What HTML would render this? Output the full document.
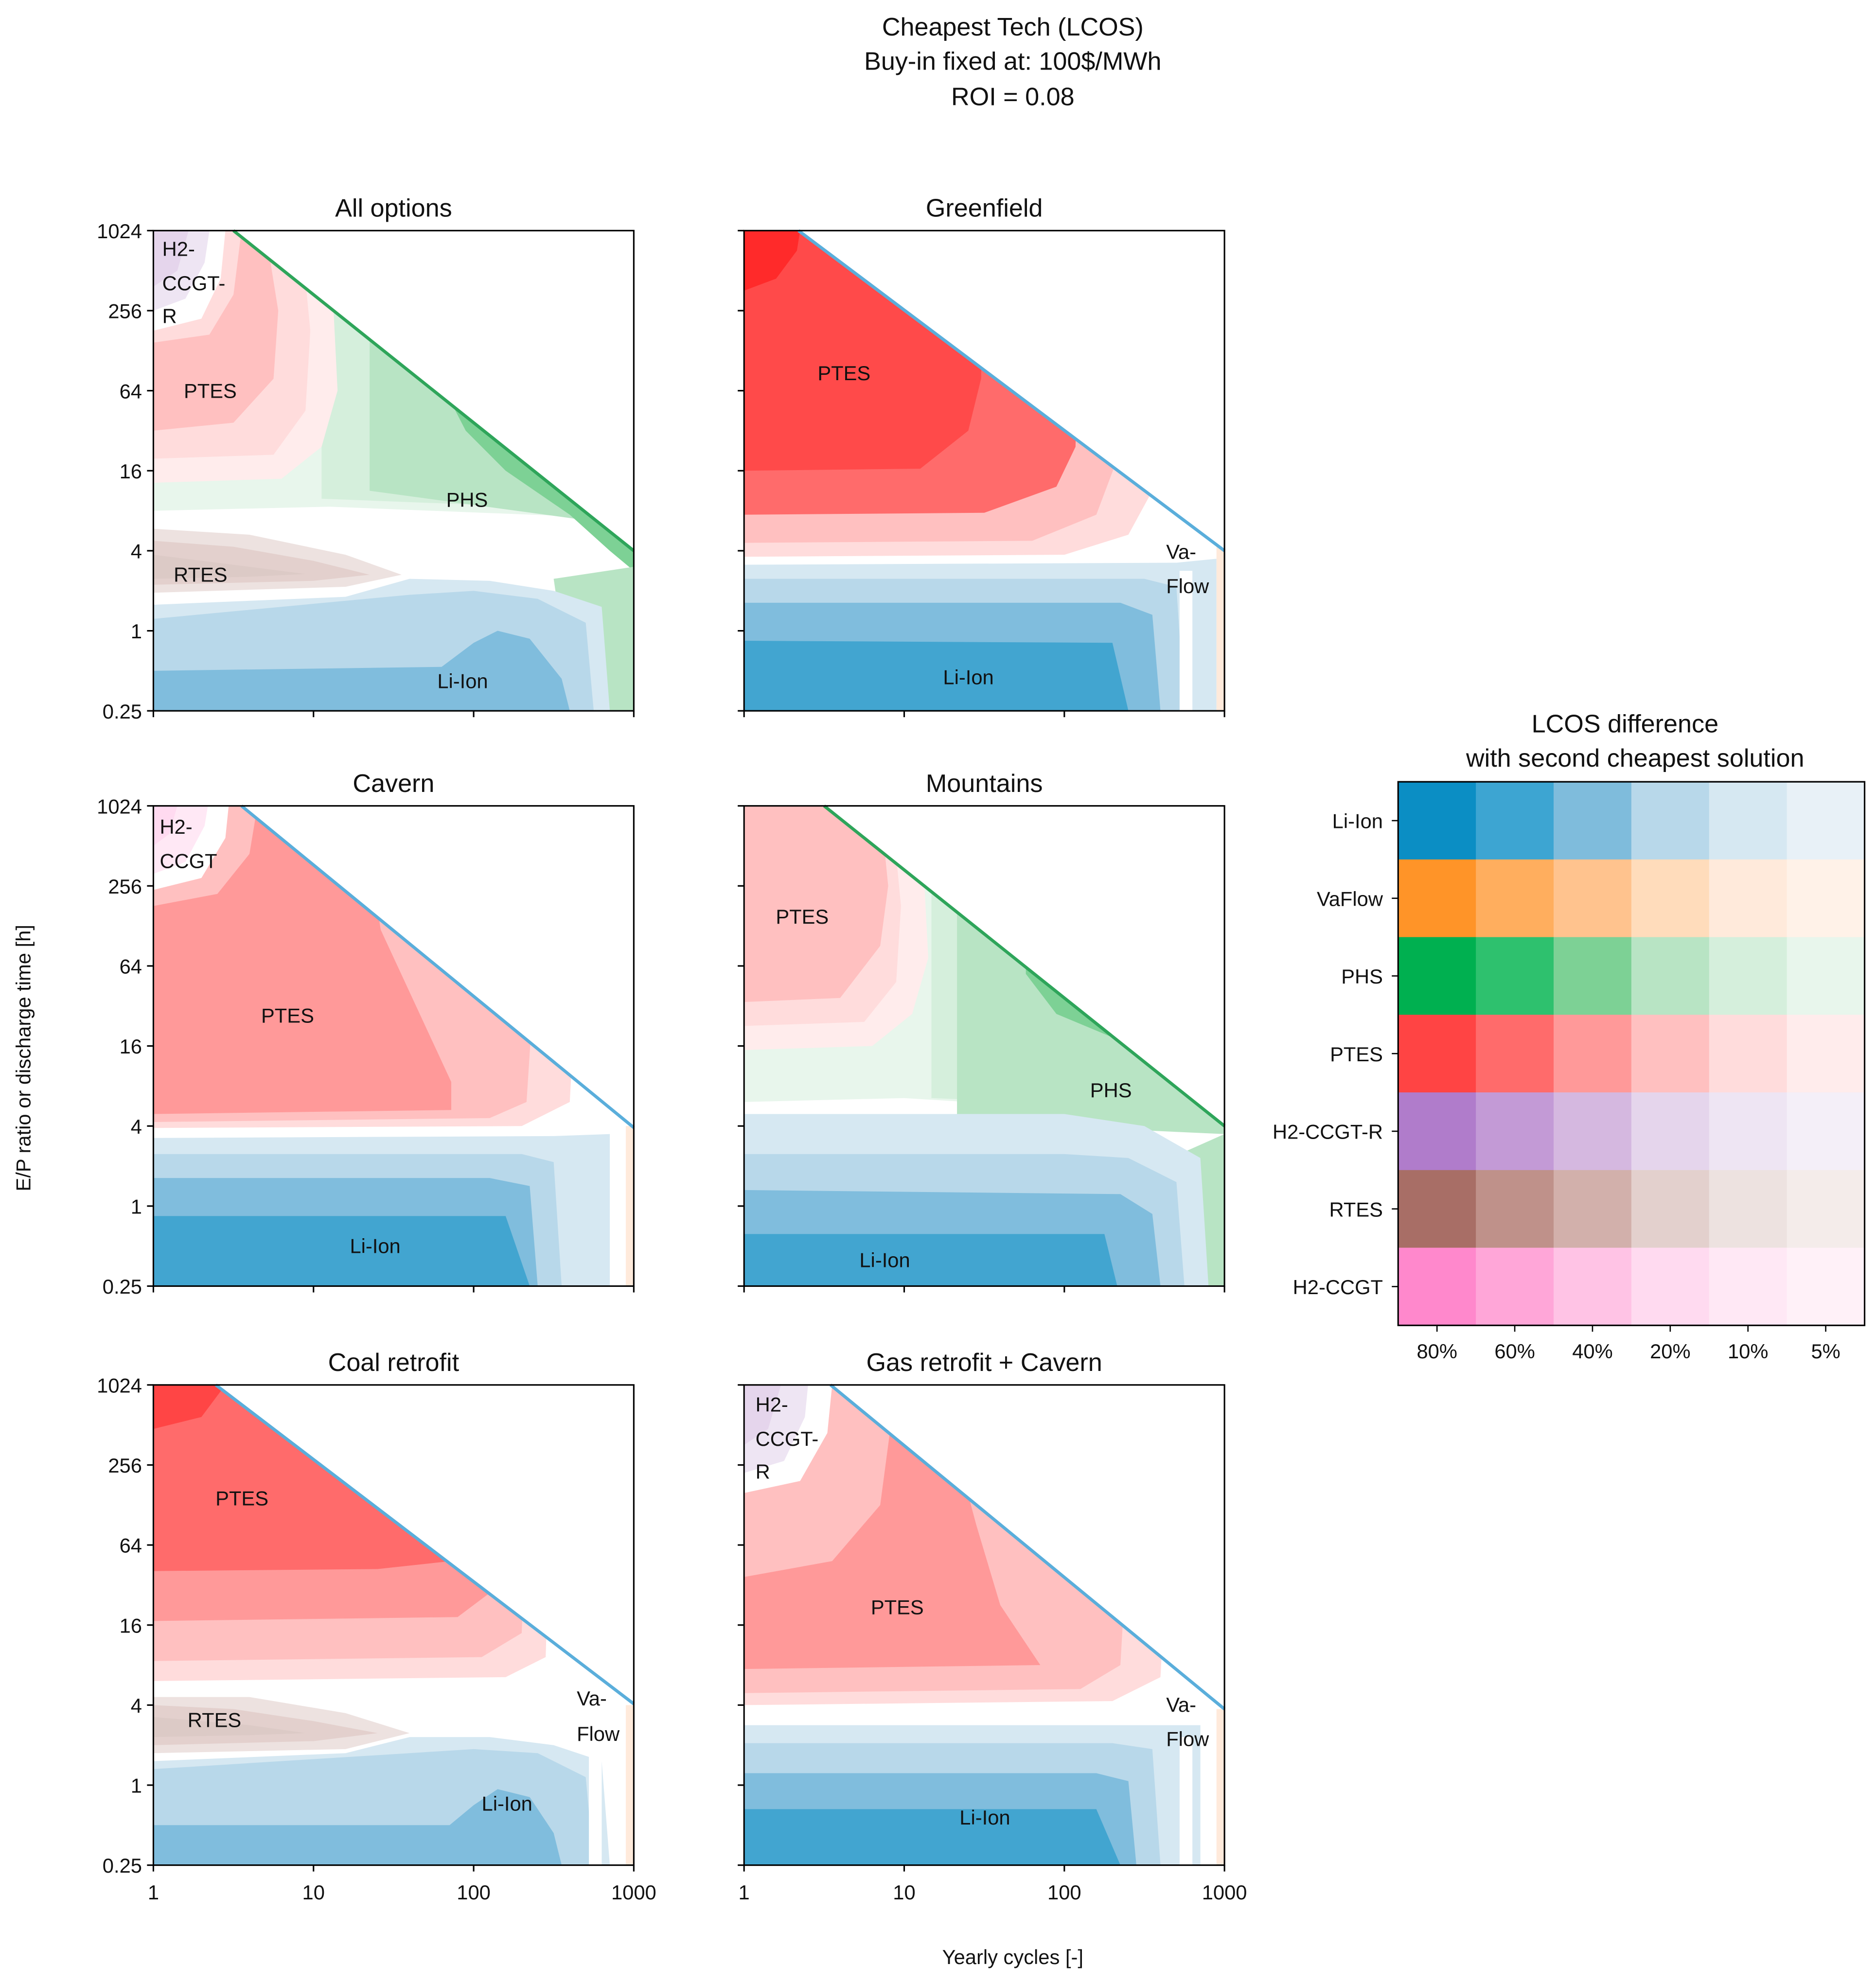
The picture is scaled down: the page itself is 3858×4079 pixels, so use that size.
<!DOCTYPE html>
<html><head><meta charset="utf-8"><style>
html,body{margin:0;padding:0;background:#fff;}
svg{display:block;font-family:"Liberation Sans","DejaVu Sans",sans-serif;}
</style></head><body>
<svg id="chart" xmlns="http://www.w3.org/2000/svg" width="3858" height="4079" viewBox="0 0 1480 1565" preserveAspectRatio="none">
<g font-size="20" text-anchor="middle" fill="#111">
<text x="799" y="28">Cheapest Tech (LCOS)</text>
<text x="799" y="55">Buy-in fixed at: 100$/MWh</text>
<text x="799" y="83">ROI = 0.08</text>
</g>
<text x="24" y="835" font-size="16" text-anchor="middle" transform="rotate(-90 24 835)" fill="#111">E/P ratio or discharge time [h]</text>
<text x="799" y="1550" font-size="16" text-anchor="middle" fill="#111">Yearly cycles [-]</text>
<g id="panels"></g>
<g id="legend"></g>
</svg>
<script>
// ---- legend heatmap data ----
const techs = ['Li-Ion','VaFlow','PHS','PTES','H2-CCGT-R','RTES','H2-CCGT'];
const levels = ['80%','60%','40%','20%','10%','5%'];
const techColors = [
 ['#0b8ec4','#3da5d2','#7fbcdc','#b8d8ea','#d6e8f2','#e8f1f7'],
 ['#ff9428','#ffae5e','#ffc38e','#ffdcbb','#ffeadb','#fff2e8'],
 ['#00b050','#2ec16e','#7dd195','#b8e4c4','#d5efdc','#e8f6ec'],
 ['#ff4444','#ff6b6b','#ff9999','#ffc0c0','#ffdcdc','#ffecec'],
 ['#b07ccb','#c39ad6','#d5b8e0','#e5d5ec','#eee5f3','#f4eff8'],
 ['#a86e66','#bf918a','#d2b0ab','#e3d0cd','#ede2e0','#f4ecea'],
 ['#ff88cc','#ffa6d8','#ffc3e5','#ffdaf0','#ffe8f5','#fff1f8']
];
// ---- axis tick data ----
const yTickValues = [1024,256,64,16,4,1,0.25];
const yTickLabels = ['1024','256','64','16','4','1','0.25'];
const xTickValues = [1,10,100,1000];
const xTickLabels = ['1','10','100','1000'];

const L1='#42a5d0',L2='#80bddd',L3='#b8d8ea',L4='#d6e8f2';
const P0='#ff2a2a',P1='#ff4a4a',P2='#ff6b6b',P3='#ff9999',P4='#ffc0c0',P5='#ffdcdc',P6='#ffecec';
const G2='#7dd195',G3='#b8e4c4',G4='#d5efdc',G5='#e8f6ec';
const R2='#dccac6',R3='#e3d0cd',R4='#ede2e0';
const H3='#e5d5ec',H4='#eee5f3',K3='#ffdaf0',K4='#ffe8f5',V4='#ffeadb',W='#ffffff';

// regions in (log10 cycles, log2 hours)
const panelNames = ['All options','Greenfield','Cavern','Mountains','Coal retrofit','Gas retrofit + Cavern'];
const panelDiagStart = [0.5,0.34,0.55,0.5,0.39,0.54];
const panelDiagEnd = [2,2,1.96,2,2.03,1.9];
const panelRegions = [
 [[G5,[0,3.0,1.1,3.1,3,2.8,3,10,0,10]],[G4,[1.05,3.3,3,3.0,3,10,1.05,10]],[G3,[1.35,3.5,3,2.6,3,10,1.35,10]],
  [G2,[1.77,6.4,1.95,5.0,2.2,4.0,2.6,2.9,2.85,2.0,3,1.5,3,10,1.77,10]],[G3,[2.5,1.3,2.62,-2,3,-2,3,1.6]],
  [P6,[0,3.7,0.8,3.8,1.05,4.6,1.15,6,1.1,10,0,10]],[P5,[0,4.3,0.75,4.4,0.95,5.5,0.98,7.5,0.92,10,0,10]],
  [P4,[0,5.0,0.5,5.2,0.75,6.3,0.78,8,0.7,10,0,10]],[P5,[0,7.2,0.35,7.4,0.5,8.4,0.55,10,0,10]],
  [W,[0,7.5,0.3,7.8,0.42,8.8,0.45,10,0,10]],[H4,[0,8.0,0.2,8.3,0.32,9.2,0.35,10,0,10]],[H3,[0,8.6,0.15,9.0,0.22,10,0,10]],
  [W,[0,0.7,1.3,0.8,1.6,1.2,1.4,2.0,0.8,2.7,0,2.9]],
  [L4,[0,-2,2.85,-2,2.8,0.6,2.5,1.0,2.1,1.25,1.6,1.3,1.2,0.85,0,0.65]],[L3,[0,-2,2.75,-2,2.7,0.2,2.4,0.8,2.0,1.0,1.6,0.9,0,0.3]],
  [L2,[0,-2,2.6,-2,2.55,-1.2,2.35,-0.2,2.15,0.0,2.0,-0.3,1.8,-0.9,0,-1.0]],
  [R4,[0,0.95,1.2,1.1,1.55,1.4,1.2,1.9,0.6,2.4,0,2.55]],[R3,[0,1.15,1.0,1.25,1.35,1.4,1.0,1.75,0.5,2.1,0,2.25]],[R2,[0,1.3,0.6,1.35,0.95,1.42,0.6,1.6,0,1.9]]],
 [[P5,[0,1.85,2.0,1.9,2.4,2.4,2.55,3.5,2.6,10,0,10]],[P4,[0,2.2,1.8,2.25,2.2,2.9,2.35,4.5,2.35,10,0,10]],
  [P2,[0,2.9,1.5,2.95,1.95,3.6,2.07,4.6,2.1,10,0,10]],[P1,[0,4.0,1.1,4.05,1.4,5.0,1.48,6.3,1.5,10,0,10]],
  [P0,[0,8.5,0.2,8.8,0.33,9.5,0.35,10,0,10]],
  [L4,[0,-2,2.95,-2,2.95,1.8,2.7,1.7,0,1.65]],[L3,[0,-2,2.75,-2,2.7,1.1,2.5,1.3,0,1.3]],
  [L2,[0,-2,2.6,-2,2.55,0.4,2.35,0.7,0,0.7]],[L1,[0,-2,2.4,-2,2.3,-0.3,0,-0.25]],
  [W,[2.72,-2,2.8,-2,2.8,1.5,2.72,1.5]],[V4,[2.95,-2,3,-2,3,2.1,2.95,2.1]]],
 [[P5,[0,1.95,2.3,2.0,2.6,2.6,2.7,10,0,10]],[P4,[0,2.1,2.1,2.2,2.33,2.6,2.45,10,0,10]],
  [P3,[0,2.3,1.86,2.4,1.86,3.1,1.42,6.9,1.35,8.6,1.3,10,0,10]],
  [P4,[0,7.5,0.4,7.8,0.6,8.8,0.65,10,0,10]],[W,[0,7.9,0.3,8.2,0.45,9.2,0.47,10,0,10]],
  [K4,[0,8.3,0.2,8.6,0.32,9.5,0.34,10,0,10]],[K3,[0,9.0,0.1,9.3,0.15,10,0,10]],
  [L4,[0,-2,2.85,-2,2.85,1.8,2.5,1.75,0,1.7]],[L3,[0,-2,2.55,-2,2.5,1.1,2.3,1.3,0,1.3]],
  [L2,[0,-2,2.4,-2,2.35,0.5,2.1,0.7,0,0.7]],[L1,[0,-2,2.35,-2,2.2,-0.25,0,-0.25]],[V4,[2.95,-2,3,-2,3,2.0,2.95,2.0]]],
 [[G5,[0,2.6,1.0,2.7,3,2.2,3,10,0,10]],[G4,[1.17,2.7,3,2.4,3,10,1.17,10]],[G3,[1.33,2.1,3,1.8,3,10,1.33,10]],
  [G2,[1.76,5.8,1.95,4.8,2.31,4.2,2.7,3.0,3,2.0,3,10,1.76,10]],[G3,[2.55,1.0,2.65,-2,3,-2,3,1.8]],
  [P6,[0,3.9,0.8,4.0,1.05,4.8,1.15,6.2,1.1,10,0,10]],[P5,[0,4.5,0.75,4.6,0.95,5.6,0.98,7.5,0.92,10,0,10]],
  [P4,[0,5.1,0.6,5.2,0.85,6.5,0.9,8,0.85,10,0,10]],
  [L4,[0,-2,2.9,-2,2.85,1.2,2.5,2.0,2.0,2.3,0,2.3]],[L3,[0,-2,2.75,-2,2.7,0.6,2.4,1.2,2.0,1.3,0,1.3]],
  [L2,[0,-2,2.6,-2,2.55,-0.2,2.35,0.3,0,0.4]],[L1,[0,-2,2.33,-2,2.25,-0.7,0,-0.7]]],
 [[P5,[0,2.6,2.2,2.7,2.45,3.2,2.5,10,0,10]],[P4,[0,3.1,2.05,3.2,2.3,3.8,2.35,10,0,10]],
  [P3,[0,4.1,1.9,4.2,2.1,4.8,2.15,10,0,10]],[P2,[0,5.35,1.4,5.4,1.86,5.6,1.9,10,0,10]],
  ['#ff4545',[0,8.9,0.3,9.2,0.45,10,0,10]],
  [W,[0,0.6,1.3,0.7,1.6,1.1,1.4,2.0,0.8,2.5,0,2.6]],
  [L4,[0,-2,2.85,-2,2.8,0.6,2.5,1.0,2.1,1.2,1.6,1.2,1.2,0.8,0,0.6]],[L3,[0,-2,2.75,-2,2.7,0.2,2.4,0.8,2.0,0.9,1.6,0.8,0,0.4]],
  [L2,[0,-2,2.55,-2,2.5,-1.2,2.35,-0.3,2.15,-0.1,2.0,-0.5,1.85,-1.0,0,-1.0]],
  [R4,[0,0.8,1.2,0.9,1.6,1.3,1.2,1.8,0.6,2.2,0,2.2]],[R3,[0,1.0,1.0,1.1,1.4,1.3,1.0,1.6,0.5,1.9,0,2.0]],[R2,[0,1.2,0.6,1.25,0.95,1.3,0.6,1.5,0,1.7]],
  [W,[2.72,-2,2.8,-2,2.8,1.2,2.72,1.2]],[V4,[2.95,-2,3,-2,3,2.0,2.95,2.0]]],
 [[P5,[0,2.0,2.3,2.1,2.6,2.7,2.7,10,0,10]],[P4,[0,2.3,2.1,2.4,2.35,3.0,2.45,10,0,10]],
  [P3,[0,2.9,1.85,3.0,1.6,4.5,1.45,6.5,1.35,8,1.25,10,0,10]],
  [P4,[0,5.2,0.55,5.6,0.85,7,0.95,10,0,10]],[W,[0,7.3,0.35,7.6,0.52,8.8,0.55,10,0,10]],
  [H4,[0,7.8,0.25,8.1,0.38,9.2,0.4,10,0,10]],[H3,[0,8.5,0.15,8.9,0.23,10,0,10]],
  [L4,[0,-2,2.85,-2,2.85,1.5,2.5,1.5,0,1.5]],[L3,[0,-2,2.6,-2,2.55,0.9,2.3,1.05,0,1.05]],
  [L2,[0,-2,2.45,-2,2.4,0.1,2.2,0.3,0,0.3]],[L1,[0,-2,2.35,-2,2.2,-0.6,0,-0.6]],
  [W,[2.72,-2,2.8,-2,2.8,1.2,2.72,1.2]],[V4,[2.95,-2,3,-2,3,1.9,2.95,1.9]]]
];
const panelLineColor = ['#2ea55a','#5aaedb','#5aaedb','#2ea55a','#5aaedb','#5aaedb'];
const panelLabels = [
 [['H2-',7,14],['CCGT-',7,41],['R',7,67],['PTES',24,126],['PHS',231,212],['RTES',16,271],['Li-Ion',224,355]],
 [['PTES',58,112],['Va-',333,253],['Flow',333,280],['Li-Ion',157,352]],
 [['H2-',5,16],['CCGT',5,43],['PTES',85,165],['Li-Ion',155,347]],
 [['PTES',25,87],['PHS',273,224],['Li-Ion',91,358]],
 [['PTES',49,89],['Va-',334,247],['Flow',334,275],['RTES',27,264],['Li-Ion',259,330]],
 [['H2-',9,15],['CCGT-',9,42],['R',9,68],['PTES',100,175],['Va-',333,252],['Flow',333,279],['Li-Ion',170,341]]
];
const colX=[121,587], rowY=[182,636,1093], PW=379, PH=379;
const NS='http://www.w3.org/2000/svg';
function mk(tag,attrs,parent){const e=document.createElementNS(NS,tag);for(const k in attrs)e.setAttribute(k,attrs[k]);parent.appendChild(e);return e;}
const root=document.getElementById('panels');
panelNames.forEach((name,i)=>{
  const x0=colX[i%2], y0=rowY[Math.floor(i/2)];
  const X=u=>x0+u/3*PW, Y=v=>y0+(10-v)/12*PH;
  const g=mk('g',{},root);
  
  
  const cid='clip'+i;
  const cp=mk('clipPath',{id:cid},g);
  const u0=panelDiagStart[i], v1=panelDiagEnd[i];
  mk('polygon',{points:[[X(0),Y(-2)],[X(0),Y(10)],[X(u0),Y(10)],[X(3),Y(v1)],[X(3),Y(-2)]].map(p=>p.join(',')).join(' ')},cp);
  const area=mk('g',{'clip-path':'url(#'+cid+')'},g);
  mk('rect',{x:x0,y:y0,width:PW,height:PH,fill:'#fff'},area);
  panelRegions[i].forEach(([c,pts])=>{
    const arr=[];for(let k=0;k<pts.length;k+=2)arr.push(X(pts[k]).toFixed(1)+','+Y(pts[k+1]).toFixed(1));
    const p=mk('polygon',{points:arr.join(' '),fill:c},area);
    
    
  });
  const dl=mk('line',{x1:X(u0),y1:Y(10),x2:X(3),y2:Y(v1),stroke:panelLineColor[i],'stroke-width':2.5},g);
  
  
  panelLabels[i].forEach(([t,dx,dy])=>{
    const tx=mk('text',{x:x0+dx,y:y0+dy+6,'font-size':16,fill:'#111'},g);tx.textContent=t;
    
    
  });
  mk('rect',{x:x0,y:y0,width:PW,height:PH,fill:'none',stroke:'#000','stroke-width':1.2},g);
  const tt=mk('text',{x:x0+PW/2,y:y0-11,'font-size':20,'text-anchor':'middle',fill:'#111'},g);tt.textContent=name;
  
  
  yTickValues.forEach((v,k)=>{
    const yy=Y(Math.log2(v));
    mk('line',{x1:x0-5,x2:x0,y1:yy,y2:yy,stroke:'#000','stroke-width':1.2},g);
    if(i%2===0){const t=mk('text',{x:x0-9,y:yy+6,'font-size':16,'text-anchor':'end',fill:'#111'},g);t.textContent=yTickLabels[k];
      
      }
  });
  xTickValues.forEach((v,k)=>{
    const xx=X(Math.log10(v));
    mk('line',{x1:xx,x2:xx,y1:y0+PH,y2:y0+PH+5,stroke:'#000','stroke-width':1.2},g);
    if(i>=4){const t=mk('text',{x:xx,y:y0+PH+27,'font-size':16,'text-anchor':'middle',fill:'#111'},g);t.textContent=xTickLabels[k];
      
      }
  });
});
// legend heatmap
const lg=document.getElementById('legend');
const LX=1103, LY=617, CW=368/levels.length, CH=429/techs.length;
const lt1=mk('text',{x:1282,y:578,'font-size':20,'text-anchor':'middle',fill:'#111'},lg);lt1.textContent='LCOS difference';


const lt2=mk('text',{x:1290,y:605,'font-size':20,'text-anchor':'middle',fill:'#111'},lg);lt2.textContent='with second cheapest solution';


techs.forEach((t,r)=>{
  levels.forEach((l,c)=>{
    const cell=mk('rect',{x:LX+c*CW,y:LY+r*CH,width:CW+0.5,height:CH+0.5,fill:techColors[r][c]},lg);
    
    
  });
  const tx=mk('text',{x:LX-12,y:LY+r*CH+CH/2+6,'font-size':16,'text-anchor':'end',fill:'#111'},lg);tx.textContent=t;
  
  
  mk('line',{x1:LX-5,x2:LX,y1:LY+r*CH+CH/2,y2:LY+r*CH+CH/2,stroke:'#000'},lg);
});
levels.forEach((l,c)=>{
  const tx=mk('text',{x:LX+c*CW+CW/2,y:LY+429+26,'font-size':16,'text-anchor':'middle',fill:'#111'},lg);tx.textContent=l;
  
  
  mk('line',{x1:LX+c*CW+CW/2,x2:LX+c*CW+CW/2,y1:LY+429,y2:LY+434,stroke:'#000'},lg);
});
mk('rect',{x:LX,y:LY,width:368,height:429,fill:'none',stroke:'#000','stroke-width':1.2},lg);
</script>
</body></html>
